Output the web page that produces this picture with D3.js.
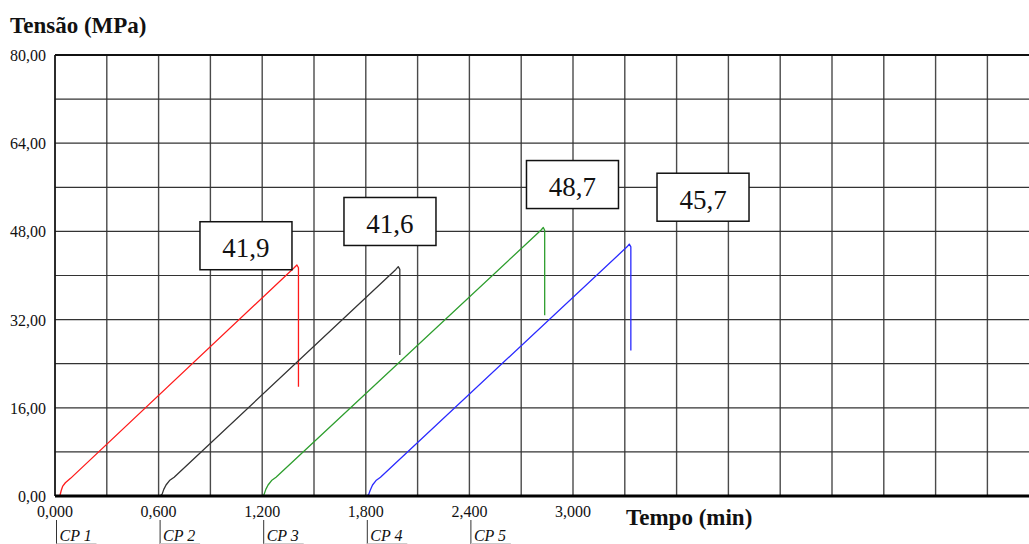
<!DOCTYPE html>
<html>
<head>
<meta charset="utf-8">
<script src="https://cdn.jsdelivr.net/npm/d3@7"></script>
<style>
  html, body { margin: 0; padding: 0; background: #fff; }
  svg { display: block; }
  svg text { font-family: "Liberation Serif", "Times New Roman", "DejaVu Serif", serif; fill: #111; }
</style>
</head>
<body>
<svg id="chart" width="1029" height="544"></svg>
<script>
// Compression test: stress vs time for each specimen
const specimens = ["CP 1", "CP 2", "CP 3", "CP 4", "CP 5"];
const specimenStart = [0, 0.6, 1.2, 1.8, 2.4];          // min, marker on the time axis
const peakStress = [41.9, 41.6, 48.7, 45.7];            // MPa
const peakTime = [1.401, 1.988, 2.828, 3.326];          // min
const seriesColors = ["#ff1a1a", "#333333", "#2e9e2e", "#2a2aff"];

// Loading curves [min, MPa]: seating toe, linear rise, peak, drop at failure
const cp1 = [[0, 0], [0.028, 0], [0.036, 1.0], [0.045, 1.8], [0.06, 2.4], [0.09, 3.2],
             [1.385, 41.4], [peakTime[0], peakStress[0]], [1.41, 41.4], [1.41, 19.8]];
const cp2 = [[0.608, 0], [0.62, 0.3], [0.63, 1.2], [0.643, 2.0], [0.663, 2.8], [0.69, 3.4],
             [1.974, 41.1], [peakTime[1], peakStress[1]], [1.997, 41.1], [1.997, 25.6]];
const cp3 = [[1.195, 0], [1.21, 0.2], [1.221, 1.2], [1.234, 2.0], [1.254, 2.8], [1.28, 3.4],
             [2.814, 48.2], [peakTime[2], peakStress[2]], [2.836, 48.2], [2.836, 32.8]];
const cp4 = [[1.8, 0], [1.816, 0.2], [1.825, 1.0], [1.839, 2.0], [1.859, 2.8], [1.885, 3.4],
             [3.313, 45.2], [peakTime[3], peakStress[3]], [3.335, 45.2], [3.335, 26.4]];
const curves = [cp1, cp2, cp3, cp4];

// Peak value callouts, centre of each box in [min, MPa]
const calloutAt = [[1.106, 45.4], [1.940, 49.8], [2.997, 56.5], [3.753, 54.2]];

const yTicks = [0, 16, 32, 48, 64, 80];
const xTicks = [0, 0.6, 1.2, 1.8, 2.4, 3.0];

const ptBR = d3.formatLocale({ decimal: ",", thousands: ".", grouping: [3], currency: ["R$", ""] });
const fmtY = ptBR.format(".2f");
const fmtX = ptBR.format(".3f");
const fmtPeak = ptBR.format(".1f");

const svg = d3.select("#chart");
const plotLeft = 55, plotTop = 55, plotBottom = 496, plotRight = 1029;

const x = d3.scaleLinear().domain([0, 6]).range([plotLeft, plotLeft + 1036]);
const y = d3.scaleLinear().domain([0, 80]).range([plotBottom, plotTop]);

// grid
const grid = svg.append("g");
grid.selectAll("line.v").data(d3.range(0, 6.01, 0.3)).join("line")
  .attr("x1", d => x(d)).attr("x2", d => x(d))
  .attr("y1", plotTop).attr("y2", plotBottom)
  .attr("stroke", "#4a4a4a").attr("stroke-width", 1.4);
grid.selectAll("line.h").data(d3.range(8, 80, 8)).join("line")
  .attr("x1", plotLeft).attr("x2", plotRight)
  .attr("y1", d => y(d)).attr("y2", d => y(d))
  .attr("stroke", "#333").attr("stroke-width", 1.2);

// frame
svg.append("line").attr("x1", plotLeft).attr("x2", plotRight).attr("y1", plotTop).attr("y2", plotTop)
  .attr("stroke", "#111").attr("stroke-width", 2);
svg.append("line").attr("x1", plotLeft).attr("x2", plotLeft).attr("y1", plotTop).attr("y2", plotBottom)
  .attr("stroke", "#111").attr("stroke-width", 1.5);

// curves
const line = d3.line().x(d => x(d[0])).y(d => y(d[1])).curve(d3.curveLinear);
svg.append("g").selectAll("path").data(curves).join("path")
  .attr("d", line)
  .attr("fill", "none")
  .attr("stroke", (d, i) => seriesColors[i])
  .attr("stroke-width", 1.3)
  .attr("stroke-linejoin", "round");

// time axis baseline
svg.append("line").attr("x1", plotLeft).attr("x2", plotRight).attr("y1", plotBottom).attr("y2", plotBottom)
  .attr("stroke", "#000").attr("stroke-width", 3);

// y tick labels
svg.append("g").selectAll("text").data(yTicks).join("text")
  .attr("x", 46).attr("y", d => y(d) + 6)
  .attr("text-anchor", "end")
  .style("font-size", "16px")
  .text(d => fmtY(d));

// x tick labels
svg.append("g").selectAll("text").data(xTicks).join("text")
  .attr("x", d => x(d)).attr("y", 517)
  .attr("text-anchor", "middle")
  .style("font-size", "16px")
  .text(d => fmtX(d));

// specimen markers along the time axis
const marks = svg.append("g").selectAll("g").data(specimens).join("g")
  .attr("transform", (d, i) => `translate(${x(specimenStart[i]) + 1.5},0)`);
marks.append("line").attr("x1", 0).attr("x2", 0).attr("y1", 520).attr("y2", 544)
  .attr("stroke", "#333").attr("stroke-width", 1);
marks.append("line").attr("x1", 0).attr("x2", 40).attr("y1", 543.5).attr("y2", 543.5)
  .attr("stroke", "#ccc").attr("stroke-width", 1);
marks.append("text").attr("x", 3).attr("y", 541)
  .style("font-style", "italic").style("font-size", "16px")
  .text(d => d);

// axis titles
svg.append("text").attr("x", 10).attr("y", 33)
  .style("font-weight", "bold").style("font-size", "23px")
  .text("Tensão (MPa)");
svg.append("text").attr("x", 626).attr("y", 525)
  .style("font-weight", "bold").style("font-size", "23px")
  .text("Tempo (min)");

// peak callouts
const boxW = 92, boxH = 48;
const callouts = svg.append("g").selectAll("g").data(peakStress).join("g")
  .attr("transform", (d, i) => `translate(${x(calloutAt[i][0])},${y(calloutAt[i][1])})`);
callouts.append("rect")
  .attr("x", -boxW / 2).attr("y", -boxH / 2).attr("width", boxW).attr("height", boxH)
  .attr("fill", "#fff").attr("stroke", "#111").attr("stroke-width", 1.5);
callouts.append("text")
  .attr("x", 0).attr("y", 11.5).attr("text-anchor", "middle")
  .style("font-size", "27px")
  .text(d => fmtPeak(d));
</script>
</body>
</html>
